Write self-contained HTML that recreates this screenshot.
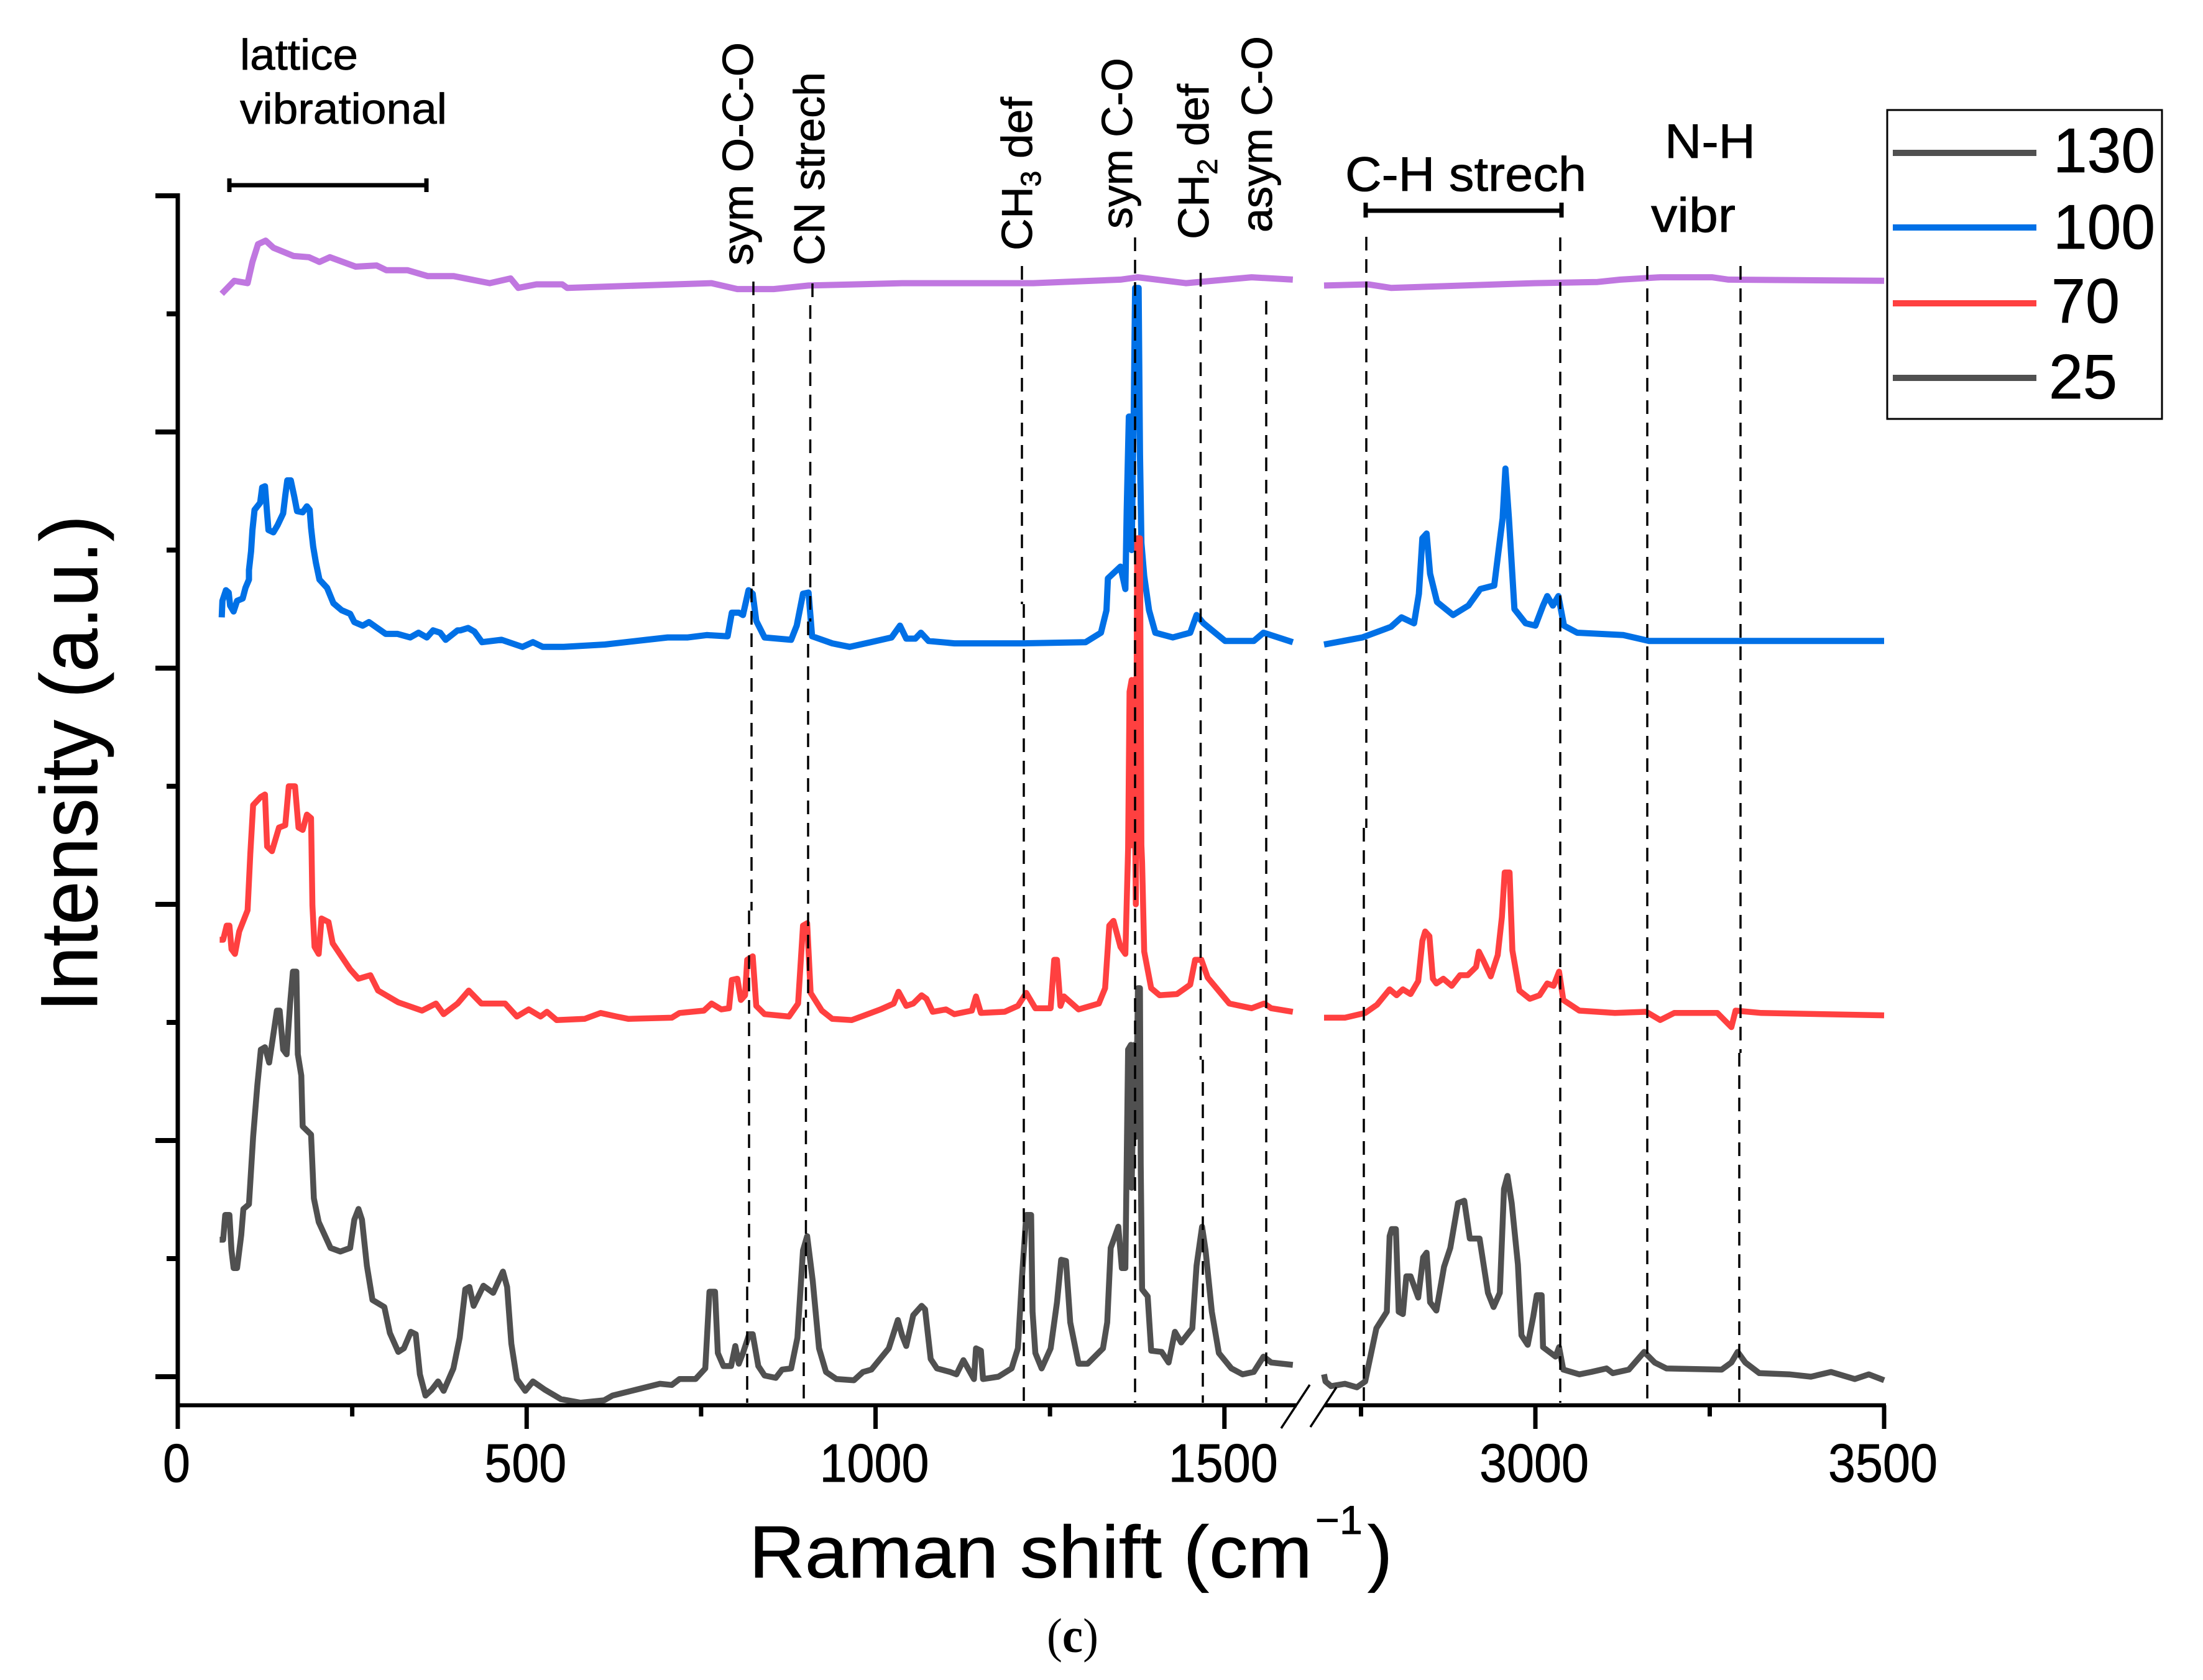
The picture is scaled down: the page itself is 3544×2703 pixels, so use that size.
<!DOCTYPE html>
<html lang="en">
<head>
<meta charset="utf-8">
<title>Raman spectra</title>
<style>
html,body{margin:0;padding:0;background:#fff}
svg{display:block}
text{font-family:"Liberation Sans",sans-serif;fill:#000;stroke:#000;stroke-width:0.8}
.lab{font-size:70px}
.guide{stroke:#000;stroke-width:3.5;stroke-dasharray:22 14;fill:none}
.ser{fill:none;stroke-linejoin:round;stroke-linecap:butt}
</style>
</head>
<body>
<svg xmlns="http://www.w3.org/2000/svg" width="3544" height="2703" viewBox="0 0 3544 2703">
  <g id="series-layer">
    <path id="s100" class="ser" stroke="#0070e6" stroke-width="10"/>
    <path id="s70" class="ser" stroke="#ff4040" stroke-width="9.5"/>
    <path id="s25" class="ser" stroke="#505050" stroke-width="9.5"/>
    <path id="s130" class="ser" stroke="#c077e0" stroke-width="10"/>
  </g>

  <g>
    <path class="guide" d="M1212 453V947M1209 947V1465M1205 1465V2070M1202 2070V2257"/>
    <path class="guide" d="M1307 456V491M1303.500 491V1000M1300 1000V1639M1296.500 1639V2120M1293 2120V2257"/>
    <path class="guide" d="M1644 428V972M1647 972V2257"/>
    <path class="guide" d="M1826 382V2257"/>
    <path class="guide" d="M1931.500 439V1705M1935 1705V2257"/>
    <path class="guide" d="M2037 484V2257"/>
    <path class="guide" d="M2198 381V1332M2194 1332V2257"/>
    <path class="guide" d="M2510 382V2257"/>
    <path class="guide" d="M2650 428V2257"/>
    <path class="guide" d="M2800 428V1694M2798 1694V2257"/>
  </g>

  <g id="axes" stroke="#000" fill="none">
    <path d="M286 311V2264" stroke-width="7"/>
    <path d="M283 2261H2086M2131 2261H3034" stroke-width="6.500"/>
    <path d="M2061 2298L2107 2228M2108 2296L2150 2232" stroke-width="3.500"/>
  </g>
  <g id="x-labels"></g>

  <text transform="translate(156,1628) rotate(-90)" font-size="130" textLength="799" lengthAdjust="spacingAndGlyphs">Intensity (a.u.)</text>
  <text x="1205" y="2538" font-size="119" textLength="906" lengthAdjust="spacingAndGlyphs">Raman shift (cm</text>
  <text x="2116" y="2468" font-size="65" textLength="76" lengthAdjust="spacingAndGlyphs">−1</text>
  <text x="2200" y="2538" font-size="119" textLength="40" lengthAdjust="spacingAndGlyphs">)</text>
  <text x="1684" y="2658" font-size="78" textLength="83" lengthAdjust="spacingAndGlyphs" style='font-family:"Liberation Serif",serif;stroke-width:0'>(<tspan font-weight="bold">c</tspan>)</text>

  <text class="lab" x="386" y="112" textLength="190" lengthAdjust="spacingAndGlyphs">lattice</text>
  <text class="lab" x="386" y="199" textLength="333" lengthAdjust="spacingAndGlyphs">vibrational</text>
  <path d="M369 298H686M369 287V309M686 287V309" stroke="#000" stroke-width="7" fill="none"/>

  <text class="lab" transform="translate(1211,427) rotate(-90)" textLength="359" lengthAdjust="spacingAndGlyphs">sym O-C-O</text>
  <text class="lab" transform="translate(1326,427) rotate(-90)" textLength="311" lengthAdjust="spacingAndGlyphs">CN strech</text>
  <text class="lab" transform="translate(1660,403) rotate(-90)" textLength="247" lengthAdjust="spacingAndGlyphs">CH<tspan font-size="45" dy="14">3</tspan><tspan dy="-14"> def</tspan></text>
  <text class="lab" transform="translate(1821,368) rotate(-90)" textLength="275" lengthAdjust="spacingAndGlyphs">sym C-O</text>
  <text class="lab" transform="translate(1944,385) rotate(-90)" textLength="250" lengthAdjust="spacingAndGlyphs">CH<tspan font-size="45" dy="14">2</tspan><tspan dy="-14"> def</tspan></text>
  <text class="lab" transform="translate(2046,374) rotate(-90)" textLength="316" lengthAdjust="spacingAndGlyphs">asym C-O</text>

  <text x="2164" y="307" font-size="78" textLength="388" lengthAdjust="spacingAndGlyphs">C-H strech</text>
  <path d="M2197 339H2512M2197 326V350M2512 326V350" stroke="#000" stroke-width="7" fill="none"/>
  <text x="2678" y="254" font-size="78" textLength="146" lengthAdjust="spacingAndGlyphs">N-H</text>
  <text x="2656" y="373" font-size="78" textLength="136" lengthAdjust="spacingAndGlyphs">vibr</text>

  <g>
    <rect x="3036" y="177" width="442" height="497" fill="#fff" stroke="#000" stroke-width="3"/>
    <path d="M3045 246H3276" stroke="#505050" stroke-width="10"/>
    <text x="3303" y="277" font-size="101" textLength="164" lengthAdjust="spacingAndGlyphs">130</text>
    <path d="M3045 366H3276" stroke="#0070e6" stroke-width="10"/>
    <text x="3303" y="400" font-size="101" textLength="164" lengthAdjust="spacingAndGlyphs">100</text>
    <path d="M3045 488H3276" stroke="#ff4040" stroke-width="10"/>
    <text x="3300" y="519" font-size="101" textLength="110" lengthAdjust="spacingAndGlyphs">70</text>
    <path d="M3045 608H3276" stroke="#505050" stroke-width="10"/>
    <text x="3296" y="641" font-size="101" textLength="110" lengthAdjust="spacingAndGlyphs">25</text>
  </g>
</svg>
<script>
var xMajorTicks = [0, 500, 1000, 1500, 3000, 3500];
var xMinorTicks = [250, 750, 1250, 2750, 3250];
var yMajorTicks = [0, 200, 400, 600, 800, 1000];
var yMinorTicks = [100, 300, 500, 700, 900];

var x25 = [60,65,68,74,77,80,85,91,94,102,108,114,119,125,131,137,142,146,151,156,161,165,170,172,177,179,191,195,202,219,233,247,253,259,264,271,279,296,304,316,324,334,341,347,355,364,373,381,395,404,412,418,424,438,452,466,472,478,486,498,509,526,549,577,611,623,657,691,708,719,742,756,762,770,774,782,793,799,804,810,819,824,832,841,857,866,879,888,896,902,910,919,929,944,969,982,994,1019,1032,1038,1044,1054,1066,1071,1079,1088,1107,1116,1126,1141,1144,1151,1154,1176,1195,1204,1210,1216,1223,1225,1229,1238,1251,1260,1266,1273,1279,1291,1304,1326,1332,1337,1348,1353,1358,1360,1362,1366,1367,1371,1373,1376,1379,1380,1382,1390,1395,1410,1420,1429,1438,1454,1460,1468,1473,1482,1492,1510,1526,1542,1556,1567,1598,2697,2699,2707,2727,2744,2756,2761,2772,2787,2791,2794,2800,2804,2810,2815,2821,2832,2839,2844,2849,2858,2869,2878,2889,2898,2906,2920,2932,2940,2949,2955,2960,2966,2975,2980,2989,2997,3002,3009,3011,3029,3034,3040,3063,3080,3102,3111,3134,3156,3171,3188,3267,3281,3290,3301,3321,3364,3395,3424,3458,3478,3500];
var y25 = [116,116,137,137,107,92,92,120,142,146,203,247,277,279,266,290,310,310,277,273,316,343,343,273,255,212,205,151,131,109,106,109,133,142,133,94,65,59,37,21,24,38,36,2,-16,-11,-4,-12,7,33,74,76,60,77,71,89,76,28,-2,-12,-4,-11,-19,-22,-20,-16,-11,-6,-7,-2,-2,7,72,72,20,9,9,26,11,20,36,36,9,1,-1,6,7,33,107,119,81,24,4,-2,-3,4,6,24,48,35,26,52,60,57,15,7,4,2,14,-2,24,22,-2,0,7,24,85,137,137,55,20,7,24,63,99,98,46,11,11,24,46,109,127,92,92,185,277,281,160,281,203,329,329,180,74,68,22,21,12,38,29,41,94,127,107,55,20,7,2,4,17,12,10,2,-4,-8,-6,-9,-4,10,41,55,119,125,125,55,53,85,85,67,101,105,63,56,93,109,147,149,117,117,71,59,71,159,170,147,95,35,27,51,69,69,25,17,25,6,2,4,7,3,6,21,12,7,6,12,21,12,3,2,0,4,-2,2,-3];

var x70 = [60,65,70,74,77,82,88,100,104,108,119,125,128,135,145,154,159,168,173,179,185,191,193,196,202,206,216,222,247,259,276,287,316,350,370,381,401,417,435,469,486,503,520,529,543,583,606,629,646,708,719,754,765,779,790,794,802,807,813,816,824,829,841,876,889,896,902,907,923,938,966,1007,1026,1033,1044,1054,1066,1073,1082,1101,1113,1138,1144,1151,1185,1204,1216,1229,1251,1256,1260,1265,1270,1291,1320,1329,1335,1341,1351,1358,1362,1364,1367,1367,1370,1373,1375,1379,1381,1382,1385,1395,1407,1432,1451,1458,1467,1476,1507,1539,1557,1567,1598,2697,2727,2756,2773,2791,2801,2810,2821,2832,2838,2842,2848,2853,2858,2868,2880,2892,2903,2915,2919,2925,2936,2946,2952,2956,2963,2967,2977,2992,3006,3017,3026,3034,3040,3063,3114,3159,3179,3199,3261,3281,3287,3324,3500];
var y70 = [370,370,382,382,362,358,377,395,443,484,491,493,449,445,465,467,500,500,465,463,476,473,399,364,358,388,385,367,345,337,340,327,317,310,316,307,316,327,316,316,305,311,305,309,302,303,308,305,303,304,308,310,316,311,312,336,337,319,323,353,356,314,307,305,316,382,384,325,310,303,302,311,316,326,314,316,323,320,309,311,307,310,322,308,309,314,325,312,312,353,353,314,322,311,316,329,382,386,364,358,447,580,590,450,590,400,710,710,450,436,360,329,323,324,332,353,353,338,316,312,316,312,309,304,304,308,315,328,323,328,324,335,369,377,373,337,333,337,331,340,340,347,360,353,339,357,389,427,427,361,327,320,323,333,331,343,319,310,308,309,302,308,308,296,310,308,306];

var x100 = [63,64,69,73,75,80,85,93,97,102,102,105,107,110,118,121,125,128,130,137,143,151,154,157,162,167,171,179,185,189,191,194,198,203,214,223,235,247,253,265,274,286,298,315,333,345,357,366,376,384,401,405,416,425,436,464,494,509,523,553,612,642,672,702,731,758,788,794,804,810,818,824,829,841,879,887,896,904,909,938,963,1001,1023,1035,1044,1057,1065,1076,1113,1213,1301,1323,1331,1333,1351,1358,1360,1363,1366,1367,1370,1372,1377,1379,1381,1385,1392,1401,1426,1451,1460,1470,1501,1542,1556,1598,2697,2752,2793,2808,2826,2833,2838,2844,2849,2859,2882,2904,2921,2941,2953,2957,2962,2970,2986,3000,3011,3017,3025,3033,3041,3060,3126,3163,3500];
var y100 = [643,657,666,664,653,648,657,659,668,675,683,699,717,734,740,753,754,731,717,715,721,731,746,759,759,745,733,732,737,734,719,703,689,675,668,655,649,646,639,636,639,634,629,629,626,630,626,632,630,624,632,632,634,631,622,624,618,622,618,618,620,622,624,626,626,628,627,647,647,645,666,663,640,626,624,636,663,664,627,621,618,623,626,636,625,625,630,623,621,621,622,630,649,676,686,667,734,813,813,700,813,922,922,781,706,678,649,630,626,630,645,638,623,623,630,622,620,626,635,643,638,663,710,714,680,656,645,653,667,670,727,769,727,650,638,636,653,661,653,661,636,630,628,623,623];

var x130 = [63,81,100,107,115,126,137,166,188,203,218,255,285,299,329,358,395,447,477,488,514,551,558,765,802,854,904,1038,1226,1351,1376,1445,1539,1598,2697,2760,2793,2998,3089,3122,3179,3253,3277,3500];
var y130 = [917,928,926,944,959,962,956,949,948,944,948,940,941,937,937,932,932,926,930,922,925,925,922,926,921,921,924,926,926,929,931,926,931,929,924,925,922,926,927,929,931,931,929,928];

function xScale(v) {
  return v < 1700 ? 286 + 1.1225 * v : 3031 - (3500 - v) * 1.122;
}
function yScale(v) {
  return 2215 - 1.9 * v;
}
function pathFor(xs, ys) {
  var d = '';
  for (var i = 0; i < xs.length; i++) {
    var gap = i === 0 || (xs[i - 1] < 1700 && xs[i] >= 1700);
    d += (gap ? 'M' : 'L') + xScale(xs[i]).toFixed(1) + ' ' + yScale(ys[i]).toFixed(1);
  }
  return d;
}
document.getElementById('s25').setAttribute('d', pathFor(x25, y25));
document.getElementById('s70').setAttribute('d', pathFor(x70, y70));
document.getElementById('s100').setAttribute('d', pathFor(x100, y100));
document.getElementById('s130').setAttribute('d', pathFor(x130, y130));

var NS = 'http://www.w3.org/2000/svg';
var axes = document.getElementById('axes');
var xLabels = document.getElementById('x-labels');

function addTick(x1, y1, x2, y2, w) {
  var t = document.createElementNS(NS, 'line');
  
  
  t.setAttribute('x1', x1);
  t.setAttribute('y1', y1);
  t.setAttribute('x2', x2);
  t.setAttribute('y2', y2);
  t.setAttribute('stroke-width', w);
  axes.appendChild(t);
}
xMajorTicks.forEach(function (v) {
  addTick(xScale(v), 2261, xScale(v), 2299, 7);
  var s = String(v);
  var l = document.createElementNS(NS, 'text');
  
  
  l.setAttribute('x', xScale(v) - 2);
  l.setAttribute('y', 2384);
  l.setAttribute('font-size', 87);
  l.setAttribute('text-anchor', 'middle');
  l.setAttribute('textLength', s.length * 44);
  l.setAttribute('lengthAdjust', 'spacingAndGlyphs');
  l.textContent = s;
  xLabels.appendChild(l);
});
xMinorTicks.forEach(function (v) {
  addTick(xScale(v), 2261, xScale(v), 2279, 7);
});
yMajorTicks.forEach(function (v) {
  addTick(250, yScale(v), 286, yScale(v), 8);
});
yMinorTicks.forEach(function (v) {
  addTick(268, yScale(v), 286, yScale(v), 8);
});
</script>
</body>
</html>
